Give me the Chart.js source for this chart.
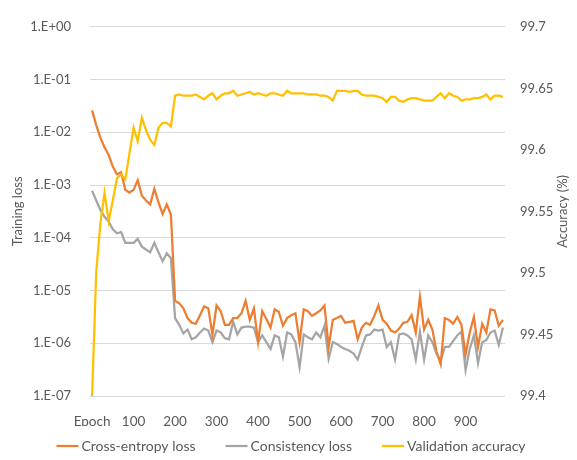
<!DOCTYPE html>
<html>
<head>
<meta charset="utf-8">
<script src="https://cdn.jsdelivr.net/npm/chart.js@4.4.1/dist/chart.umd.min.js"></script>
<style>
  html, body { margin: 0; padding: 0; background: #ffffff; }
  #wrap { width: 577px; height: 460px; }
</style>
</head>
<body>
<div id="wrap"><canvas id="chart" width="577" height="460"></canvas></div>
<script>
// Training epochs (one record every 10 epochs)
const epochs = [
  0, 10, 20, 30, 40, 50, 60, 70, 80, 90,
  100, 110, 120, 130, 140, 150, 160, 170, 180, 190,
  200, 210, 220, 230, 240, 250, 260, 270, 280, 290,
  300, 310, 320, 330, 340, 350, 360, 370, 380, 390,
  400, 410, 420, 430, 440, 450, 460, 470, 480, 490,
  500, 510, 520, 530, 540, 550, 560, 570, 580, 590,
  600, 610, 620, 630, 640, 650, 660, 670, 680, 690,
  700, 710, 720, 730, 740, 750, 760, 770, 780, 790,
  800, 810, 820, 830, 840, 850, 860, 870, 880, 890,
  900, 910, 920, 930, 940, 950, 960, 970, 980, 990
];

// Labels shown on the epoch axis, one every 100 epochs
const epochTickLabels = ['Epoch', '100', '200', '300', '400', '500', '600', '700', '800', '900'];

// Tick values of the two vertical axes
const lossTicks = [1, 1e-1, 1e-2, 1e-3, 1e-4, 1e-5, 1e-6, 1e-7];
const accuracyTicks = [99.4, 99.45, 99.5, 99.55, 99.6, 99.65, 99.7];

const crossEntropyLoss = [
  2.6e-2, 1.37e-2, 7.9e-3, 5.2e-3, 3.7e-3, 2.23e-3, 1.6e-3, 1.74e-3, 8.1e-4, 7.2e-4,
  8.1e-4, 1.24e-3, 6.3e-4, 5.1e-4, 4.3e-4, 8.5e-4, 4.7e-4, 2.84e-4, 4.3e-4, 2.72e-4,
  6.4e-6, 5.7e-6, 4.6e-6, 3.0e-6, 2.44e-6, 2.34e-6, 3.4e-6, 5.0e-6, 4.6e-6, 1.47e-6,
  5.2e-6, 4.05e-6, 2.24e-6, 2.24e-6, 3.0e-6, 3.0e-6, 3.7e-6, 6.4e-6, 2.77e-6, 4.6e-6,
  1.05e-6, 4.05e-6, 2.89e-6, 1.98e-6, 4.4e-6, 3.9e-6, 2.15e-6, 3.0e-6, 3.4e-6, 3.7e-6,
  1.05e-6, 4.4e-6, 4.05e-6, 3.3e-6, 3.7e-6, 4.2e-6, 5.2e-6, 8.5e-7, 2.77e-6, 3.0e-6,
  3.3e-6, 2.44e-6, 2.55e-6, 2.66e-6, 1.19e-6, 1.98e-6, 2.44e-6, 2.24e-6, 3.3e-6, 5.2e-6,
  2.77e-6, 2.34e-6, 1.74e-6, 1.6e-6, 1.9e-6, 2.44e-6, 2.55e-6, 3.4e-6, 1.6e-6, 7.6e-6,
  1.82e-6, 2.77e-6, 1.82e-6, 6.9e-7, 4.0e-7, 3.0e-6, 2.77e-6, 2.34e-6, 3.15e-6, 2.24e-6,
  6.1e-7, 1.6e-6, 3.15e-6, 8.5e-7, 2.34e-6, 1.6e-6, 4.4e-6, 4.2e-6, 2.15e-6, 2.77e-6
];

const consistencyLoss = [
  7.8e-4, 5.1e-4, 3.36e-4, 2.5e-4, 2.03e-4, 1.45e-4, 1.22e-4, 1.28e-4, 8.0e-5, 8.0e-5,
  8.0e-5, 9.5e-5, 6.8e-5, 6.0e-5, 5.3e-5, 8.0e-5, 5.3e-5, 3.6e-5, 5.1e-5, 4.1e-5,
  3.0e-6, 2.24e-6, 1.54e-6, 1.82e-6, 1.19e-6, 1.3e-6, 1.6e-6, 1.9e-6, 1.74e-6, 1.05e-6,
  1.74e-6, 1.6e-6, 1.25e-6, 1.19e-6, 2.55e-6, 1.47e-6, 1.98e-6, 2.06e-6, 2.06e-6, 1.98e-6,
  1.05e-6, 1.41e-6, 1.05e-6, 7.8e-7, 1.41e-6, 1.3e-6, 5.6e-7, 1.6e-6, 1.47e-6, 1.05e-6,
  3.5e-7, 1.47e-6, 1.3e-6, 1.19e-6, 1.6e-6, 1.3e-6, 2.15e-6, 5.1e-7, 1.05e-6, 9.7e-7,
  8.5e-7, 7.8e-7, 7.2e-7, 6.4e-7, 4.9e-7, 8.5e-7, 1.41e-6, 1.47e-6, 1.82e-6, 1.74e-6,
  1.82e-6, 8.5e-7, 1.05e-6, 4.9e-7, 1.47e-6, 1.54e-6, 1.41e-6, 1.19e-6, 4.9e-7, 1.67e-6,
  4.9e-7, 1.41e-6, 1.05e-6, 6.4e-7, 4.7e-7, 8.5e-7, 8.5e-7, 1.1e-6, 1.41e-6, 1.67e-6,
  3.1e-7, 7.8e-7, 1.41e-6, 4.2e-7, 1.05e-6, 1.15e-6, 1.6e-6, 1.74e-6, 9.3e-7, 1.98e-6
];

const validationAccuracy = [
  99.400, 99.501, 99.540, 99.565, 99.542, 99.559, 99.577, 99.580, 99.576, 99.597,
  99.618, 99.607, 99.626, 99.616, 99.608, 99.604, 99.618, 99.622, 99.622, 99.619,
  99.644, 99.645, 99.644, 99.644, 99.644, 99.645, 99.643, 99.641, 99.644, 99.646,
  99.641, 99.644, 99.646, 99.646, 99.648, 99.644, 99.645, 99.646, 99.647, 99.645,
  99.646, 99.645, 99.644, 99.646, 99.646, 99.645, 99.644, 99.648, 99.646, 99.646,
  99.646, 99.646, 99.645, 99.645, 99.645, 99.644, 99.644, 99.643, 99.640, 99.648,
  99.648, 99.648, 99.647, 99.648, 99.648, 99.645, 99.644, 99.644, 99.644, 99.643,
  99.642, 99.639, 99.643, 99.643, 99.640, 99.639, 99.641, 99.642, 99.642, 99.641,
  99.640, 99.640, 99.640, 99.643, 99.646, 99.642, 99.646, 99.644, 99.643, 99.640,
  99.641, 99.641, 99.642, 99.642, 99.643, 99.645, 99.641, 99.644, 99.644, 99.643
];

const lossAxisTitle = 'Training loss';
const accuracyAxisTitle = 'Accuracy (%)';

const FONT = 'Lato';
const TEXT = '#595959';

// "1.E-03" style labels for the logarithmic axis
function sciLabel(v) {
  const e = Math.round(Math.log10(v));
  const mag = Math.abs(e);
  return '1.E' + (e >= 0 ? '+' : '-') + (mag < 10 ? '0' : '') + mag;
}

// Rotated title for the right-hand axis, reading bottom-to-top like the left one
const rightTitlePlugin = {
  id: 'rightTitle',
  afterDraw(chart) {
    const s = chart.scales.yAcc;
    const area = chart.chartArea;
    const ctx = chart.ctx;
    ctx.save();
    ctx.translate(s.right - 10, (area.top + area.bottom) / 2);
    ctx.rotate(-Math.PI / 2);
    ctx.font = '13px ' + FONT;
    ctx.fillStyle = TEXT;
    ctx.textAlign = 'center';
    ctx.textBaseline = 'middle';
    ctx.fillText(accuracyAxisTitle, 0, 0);
    ctx.restore();
  }
};

// Single-row legend under the axis: short line swatch followed by the series name
const lineLegendPlugin = {
  id: 'lineLegend',
  afterDraw(chart) {
    const ctx = chart.ctx;
    const swatch = 22, gapText = 3, gapItem = 30, y = 446;
    ctx.save();
    ctx.font = '14px ' + FONT;
    const items = chart.data.datasets.map(ds => ({
      text: ds.label, color: ds.borderColor, w: ctx.measureText(ds.label).width
    }));
    const total = items.reduce((s, it) => s + swatch + gapText + it.w, 0) + gapItem * (items.length - 1);
    let x = 291 - total / 2;
    ctx.textAlign = 'left';
    ctx.textBaseline = 'middle';
    for (const it of items) {
      ctx.strokeStyle = it.color;
      ctx.lineWidth = 2.25;
      ctx.beginPath();
      ctx.moveTo(x, y);
      ctx.lineTo(x + swatch, y);
      ctx.stroke();
      ctx.fillStyle = TEXT;
      ctx.fillText(it.text, x + swatch + gapText, y);
      x += swatch + gapText + it.w + gapItem;
    }
    ctx.restore();
  }
};

new Chart(document.getElementById('chart'), {
  type: 'line',
  data: {
    labels: epochs,
    datasets: [
      {
        label: 'Cross-entropy loss',
        data: crossEntropyLoss,
        yAxisID: 'yLoss',
        borderColor: '#ED7D31',
        backgroundColor: '#ED7D31',
        borderWidth: 2.25,
        pointRadius: 0,
        tension: 0,
        order: 1
      },
      {
        label: 'Consistency loss',
        data: consistencyLoss,
        yAxisID: 'yLoss',
        borderColor: '#A5A5A5',
        backgroundColor: '#A5A5A5',
        borderWidth: 2.25,
        pointRadius: 0,
        tension: 0,
        order: 2
      },
      {
        label: 'Validation accuracy',
        data: validationAccuracy,
        yAxisID: 'yAcc',
        borderColor: '#FFC000',
        backgroundColor: '#FFC000',
        borderWidth: 2.25,
        pointRadius: 0,
        tension: 0,
        order: 0
      }
    ]
  },
  options: {
    responsive: false,
    devicePixelRatio: 1,
    animation: false,
    layout: { padding: { left: 8, right: 4, top: 13, bottom: 34 } },
    plugins: {
      tooltip: { enabled: false },
      legend: { display: false }
    },
    scales: {
      x: {
        type: 'category',
        offset: true,
        grid: { display: false },
        border: { display: false },
        ticks: {
          autoSkip: false,
          maxRotation: 0,
          minRotation: 0,
          padding: 10,
          color: TEXT,
          font: { family: FONT, size: 13.5 },
          callback: (val, idx) => (idx % 10 === 0 ? epochTickLabels[idx / 10] : '')
        },
        afterFit: (s) => { s.height = 30; }
      },
      yLoss: {
        type: 'logarithmic',
        position: 'left',
        min: 1e-7,
        max: 1,
        afterBuildTicks: (s) => { s.ticks = lossTicks.map(v => ({ value: v })); },
        grid: { color: '#D9D9D9', lineWidth: 1, drawTicks: false },
        border: { display: false },
        ticks: {
          padding: 19,
          color: TEXT,
          font: { family: FONT, size: 13 },
          callback: (v) => sciLabel(v)
        },
        title: {
          display: true,
          text: lossAxisTitle,
          color: TEXT,
          font: { family: FONT, size: 13 },
          padding: { top: 2, bottom: 0 }
        },
        afterFit: (s) => { s.width = 82; }
      },
      yAcc: {
        type: 'linear',
        position: 'right',
        min: 99.4,
        max: 99.7,
        afterBuildTicks: (s) => { s.ticks = accuracyTicks.map(v => ({ value: v })); },
        grid: { display: false, drawTicks: false },
        border: { display: false },
        ticks: {
          padding: 15,
          color: TEXT,
          font: { family: FONT, size: 13 },
          callback: (v) => String(parseFloat(Number(v).toFixed(2)))
        },
        afterFit: (s) => { s.width = 68; }
      }
    }
  },
  plugins: [rightTitlePlugin, lineLegendPlugin]
});
</script>
</body>
</html>
